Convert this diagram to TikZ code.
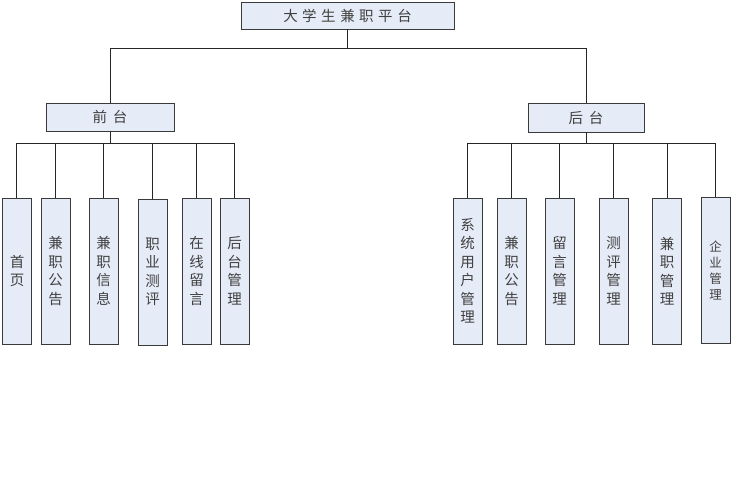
\documentclass[tikz,border=0pt]{standalone}
\usepackage{fontspec}
\newfontfamily\cjk{Noto Sans CJK SC}
\definecolor{boxfill}{HTML}{E6ECF7}
\definecolor{boxline}{HTML}{3A3A3A}
\begin{document}
\begin{tikzpicture}[x=1pt,y=-1pt,
  box/.style={draw=boxline,fill=boxfill,line width=0.9pt,inner sep=0pt,rectangle,text=black!75},
  tallbox/.style={box,minimum width=29pt,minimum height=146pt,align=center,
    font=\cjk\fontsize{14.5}{18.5}\selectfont},
  wire/.style={draw=black!85,line width=0.9pt}]
\useasboundingbox (0,0) rectangle (733,479);
\fill[white] (0,0) rectangle (733,479);
% top levels
\node[box,minimum width=213pt,minimum height=27pt,font=\cjk\fontsize{14.5}{16}\selectfont] (root) at (347.5,15.5)
  {大\hspace{4.5pt}学\hspace{4.5pt}生\hspace{4.5pt}兼\hspace{4.5pt}职\hspace{4.5pt}平\hspace{4.5pt}台};
\node[box,minimum width=128pt,minimum height=28pt,font=\cjk\fontsize{14.5}{16}\selectfont] (front) at (110,117)
  {前\hspace{6pt}台};
\node[box,minimum width=116pt,minimum height=29pt,font=\cjk\fontsize{14.5}{16}\selectfont] (back) at (586,117.5)
  {后\hspace{6pt}台};
% left children
\node[tallbox] (f1) at (17,271) {首\\页};
\node[tallbox] (f2) at (55.5,271) {兼\\职\\公\\告};
\node[tallbox] (f3) at (103.5,271) {兼\\职\\信\\息};
\node[tallbox] (f4) at (152.5,272) {职\\业\\测\\评};
\node[tallbox] (f5) at (196.5,271) {在\\线\\留\\言};
\node[tallbox] (f6) at (234.5,271) {后\\台\\管\\理};
% right children
\node[tallbox] (b1) at (467.5,271) {系\\统\\用\\户\\管\\理};
\node[tallbox] (b2) at (511.5,271) {兼\\职\\公\\告};
\node[tallbox] (b3) at (559.5,271) {留\\言\\管\\理};
\node[tallbox] (b4) at (613.5,271) {测\\评\\管\\理};
\node[tallbox] (b5) at (667,271) {兼\\职\\管\\理};
\node[tallbox,font=\cjk\fontsize{12.5}{16}\selectfont] (b6) at (715.5,270) {企\\业\\管\\理};
% buses
\coordinate (mbus) at (0,48);
\coordinate (lbus) at (0,143);
\coordinate (rbus) at (0,143);
% root to second level
\draw[wire] (root.south) -- (root.south |- mbus);
\draw[wire] (front.north) |- (back.north |- mbus) -- (back.north);
% front children
\draw[wire] (front.south) -- (front.south |- lbus);
\draw[wire] (f1.north -| 16,0) |- (f6.north |- lbus) -- (f6.north);
\foreach \c in {f2,f3,f4,f5} \draw[wire] (\c.north) -- (\c.north |- lbus);
% back children
\draw[wire] (back.south) -- (back.south |- rbus);
\draw[wire] (b1.north) |- (b6.north |- rbus) -- (b6.north);
\foreach \c in {b2,b3,b4,b5} \draw[wire] (\c.north) -- (\c.north |- rbus);
\end{tikzpicture}
\end{document}
